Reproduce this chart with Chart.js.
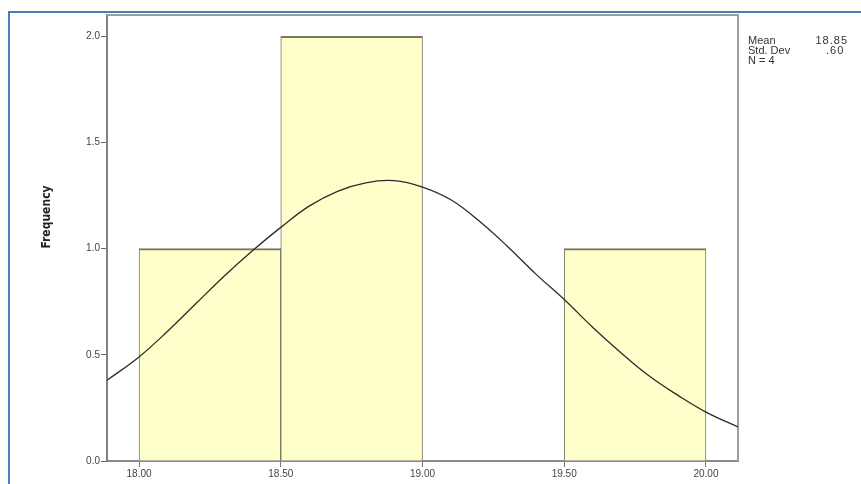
<!DOCTYPE html>
<html lang="en">
<head>
  <meta charset="UTF-8">
  <title>Histogram - Frequency</title>
  <script src="https://cdn.jsdelivr.net/npm/chart.js"></script>
  <style>
    html, body { margin: 0; padding: 0; background: #fff; overflow: hidden; }
    .frame {
      position: absolute; left: 8px; top: 11px; width: 900px; height: 500px;
      border-left: 2px solid #4a7ebb; border-top: 2px solid #4a7ebb;
    }
    #histChart { position: absolute; left: 0; top: 0; }
  </style>
</head>
<body>
  <div class="frame"></div>
  <canvas id="histChart" width="861" height="484"></canvas>

  <script>
    // histogram bins (centres, width 0.5) and counts
    const binCenters = [18.25, 18.75, 19.25, 19.75];
    const counts = [1, 2, 0, 1];

    // normal curve
    const curveX = [17.887, 18.0, 18.1, 18.2, 18.3, 18.4, 18.5, 18.6, 18.7, 18.8, 18.9, 19.0,
                    19.1, 19.2, 19.3, 19.4, 19.5, 19.6, 19.7, 19.8, 19.9, 20.0, 20.113];
    const curveY = [0.38, 0.49, 0.61, 0.74, 0.87, 0.99, 1.10, 1.20, 1.27, 1.31, 1.32, 1.29,
                    1.23, 1.13, 1.01, 0.88, 0.76, 0.63, 0.51, 0.40, 0.31, 0.23, 0.16];

    const xTicks = [18.0, 18.5, 19.0, 19.5, 20.0];
    const xTickLabels = ['18.00', '18.50', '19.00', '19.50', '20.00'];
    const yTicks = [0, 0.5, 1.0, 1.5, 2.0];
    const yTickLabels = ['0.0', '0.5', '1.0', '1.5', '2.0'];

    const statsLabels = ['Mean', 'Std. Dev', 'N = 4'];
    const statsValues = ['18.85', '.60', ''];

    // frame around plot, axis title and stats box
    const extras = {
      id: 'extras',
      beforeDatasetsDraw(chart) {
        const { ctx, chartArea: a } = chart;
        ctx.save();
        ctx.strokeStyle = '#a0a0a0';
        ctx.lineWidth = 2;
        ctx.beginPath();
        ctx.moveTo(a.left, a.top);
        ctx.lineTo(a.right, a.top);
        ctx.lineTo(a.right, a.bottom);
        ctx.stroke();
        ctx.restore();
      },
      afterDraw(chart) {
        const { ctx, chartArea: a } = chart;
        ctx.save();
        ctx.fillStyle = '#222';
        ctx.font = 'bold 12px "Liberation Sans Narrow", "DejaVu Sans Condensed", sans-serif';
        ctx.textAlign = 'center';
        ctx.textBaseline = 'middle';
        ctx.translate(47, 217);
        ctx.rotate(-Math.PI / 2);
        ctx.fillText('Frequency', 0, 0);
        ctx.restore();

        ctx.save();
        ctx.fillStyle = '#333';
        ctx.font = '11px "Liberation Sans", Arial, sans-serif';
        ctx.textBaseline = 'middle';
        statsLabels.forEach((t, i) => {
          const y = 41 + i * 10;
          ctx.letterSpacing = '0px';
          ctx.textAlign = 'left';
          ctx.fillText(t, a.right + 10, y);
          if (!statsValues[i]) return;
          ctx.letterSpacing = '1px';
          if (i === 0) {
            ctx.textAlign = 'right';
            ctx.fillText(statsValues[i], a.right + 110, y);
          } else {
            ctx.textAlign = 'left';
            ctx.fillText(statsValues[i], a.right + 88, y);
          }
        });
        ctx.restore();
      }
    };

    new Chart(document.getElementById('histChart'), {
      type: 'bar',
      data: {
        datasets: [
          {
            type: 'line',
            data: curveX.map((x, i) => ({ x: x, y: curveY[i] })),
            borderColor: '#2b2b2b',
            borderWidth: 1.3,
            pointRadius: 0,
            tension: 0.4,
            fill: false,
            order: 0
          },
          {
            type: 'bar',
            data: binCenters.map((x, i) => ({ x: x, y: counts[i] })),
            backgroundColor: '#ffffcc',
            borderColor: '#77775f',
            borderWidth: { top: 2, left: 1, right: 1, bottom: 0 },
            borderSkipped: 'bottom',
            barPercentage: 1,
            categoryPercentage: 1,
            order: 1
          }
        ]
      },
      options: {
        responsive: false,
        animation: false,
        layout: { padding: { left: 0, top: 15, right: 123, bottom: 0 } },
        plugins: { legend: { display: false }, tooltip: { enabled: false } },
        scales: {
          x: {
            type: 'linear',
            min: 17.887,
            max: 20.113,
            offset: false,
            afterFit: s => { s.height = 23; },
            afterBuildTicks: s => { s.ticks = xTicks.map(v => ({ value: v })); },
            grid: { drawOnChartArea: false, offset: false, tickLength: 6, color: '#777', lineWidth: 1 },
            border: { color: '#8a8a8a', width: 2 },
            ticks: {
              padding: 1,
              color: '#444',
              font: { family: '"Liberation Sans", Arial, sans-serif', size: 10 },
              maxRotation: 0,
              autoSkip: false,
              callback: v => xTickLabels[xTicks.indexOf(v)]
            }
          },
          y: {
            type: 'linear',
            min: 0,
            max: 2.1,
            afterFit: s => { s.width = 107; },
            afterBuildTicks: s => { s.ticks = yTicks.map(v => ({ value: v })); },
            grid: { drawOnChartArea: false, tickLength: 6, color: '#666', lineWidth: 1 },
            border: { color: '#808080', width: 2 },
            ticks: {
              padding: 1,
              color: '#444',
              font: { family: '"Liberation Sans", Arial, sans-serif', size: 10 },
              callback: v => yTickLabels[yTicks.indexOf(v)]
            }
          }
        }
      },
      plugins: [extras]
    });
  </script>
</body>
</html>
